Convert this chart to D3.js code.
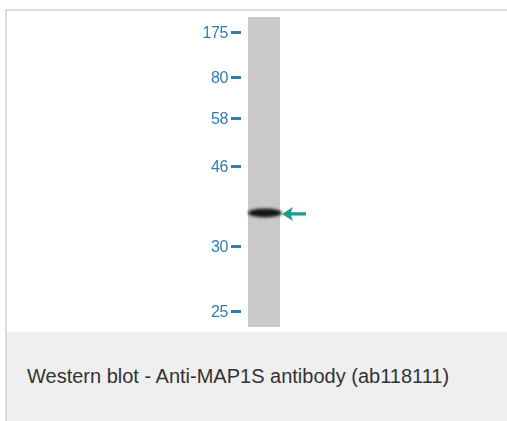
<!DOCTYPE html>
<html>
<head>
<meta charset="utf-8">
<script src="https://cdn.jsdelivr.net/npm/d3@7"></script>
<style>
  body { margin: 0; background: #fff; }
  svg { display: block; }
</style>
</head>
<body>
<script>
// western blot figure, one lane, marker ladder on the left

// ladder markers (kDa) and the detected band
var markers = [175, 80, 58, 46, 30, 25];
var markerLabels = ["175", "80", "58", "46", "30", "25"];
var bandsKDa = [35.8];
var bandStrength = [1];
var caption = "Western blot - Anti-MAP1S antibody (ab118111)";

var width = 507, height = 421;

var svg = d3.select("body")
  .append("svg")
    .attr("width", width)
    .attr("height", height);

// blur for the band
var defs = svg.append("defs");
defs.append("filter")
    .attr("id", "blur")
    .attr("x", "-20%").attr("y", "-100%")
    .attr("width", "140%").attr("height", "300%")
  .append("feGaussianBlur")
    .attr("stdDeviation", "1.6 1.5");
defs.append("filter")
    .attr("id", "soft")
  .append("feGaussianBlur")
    .attr("stdDeviation", "0.35");

// frame: light border on left and top, caption strip below
svg.append("rect")
    .attr("x", 5).attr("y", 9)
    .attr("width", width - 5).attr("height", height - 9)
    .attr("fill", "#dcdcdc");
svg.append("rect")
    .attr("x", 7).attr("y", 11)
    .attr("width", width - 7).attr("height", 321)
    .attr("fill", "#ffffff");
svg.append("rect")
    .attr("x", 7).attr("y", 332)
    .attr("width", width - 7).attr("height", height - 332)
    .attr("fill", "#eeefee");

// migration scale (piecewise log, calibrated on the ladder)
var y = d3.scaleLog()
    .domain(markers)
    .range([32, 77, 118, 166, 246, 311]);

var lane = { x0: 248, x1: 280, top: 17, bottom: 327 };

// the lane
svg.append("rect")
    .attr("x", lane.x0).attr("y", lane.top)
    .attr("width", lane.x1 - lane.x0).attr("height", lane.bottom - lane.top)
    .attr("fill", "#c9c9c9");

// ladder axis
var axis = d3.axisLeft(y)
    .tickValues(markers)
    .tickFormat(function(d, i) { return markerLabels[i]; })
    .tickSize(0)
    .tickPadding(0);

var ax = svg.append("g")
    .attr("transform", "translate(241,0)")
    .attr("filter", "url(#soft)")
    .call(axis);
ax.select(".domain").remove();
ax.selectAll(".tick line").remove();
ax.selectAll(".tick").append("rect")
    .attr("x", -10).attr("y", -1.5)
    .attr("width", 10).attr("height", 3)
    .attr("fill", "#2f7fb0");
ax.selectAll(".tick text")
    .attr("x", -13)
    .attr("dy", "0.36em")
    .attr("fill", "#2f7fb0")
    .style("font-family", "'Liberation Sans', Arial, sans-serif")
    .style("font-size", "16px")
    .style("letter-spacing", "-0.4px");

// bands
svg.selectAll("ellipse.band")
  .data(bandsKDa)
  .enter().append("ellipse")
    .attr("class", "band")
    .attr("cx", (lane.x0 + lane.x1) / 2 + 1)
    .attr("cy", function(d) { return y(d); })
    .attr("rx", (lane.x1 - lane.x0) / 2 + 1)
    .attr("ry", 4.5)
    .attr("fill", "#141414")
    .attr("opacity", function(d, i) { return bandStrength[i]; })
    .attr("filter", "url(#blur)");

// arrow pointing at the band
var arrow = svg.selectAll("g.arrow")
  .data(bandsKDa)
  .enter().append("g")
    .attr("class", "arrow")
    .attr("transform", function(d) { return "translate(" + (lane.x1 + 2) + "," + (y(d) + 1) + ")"; });
arrow.append("path")
    .attr("d", "M0,0 L11,-7 L9,-1.7 L24,-1.7 L24,1.7 L9,1.7 L11,7 Z")
    .attr("fill", "#1b9e8d");

// caption
svg.append("text")
    .attr("x", 27)
    .attr("y", 383)
    .attr("fill", "#333333")
    .style("font-family", "'Liberation Sans', Arial, sans-serif")
    .style("font-size", "20px")
    .text(caption);
</script>
</body>
</html>
